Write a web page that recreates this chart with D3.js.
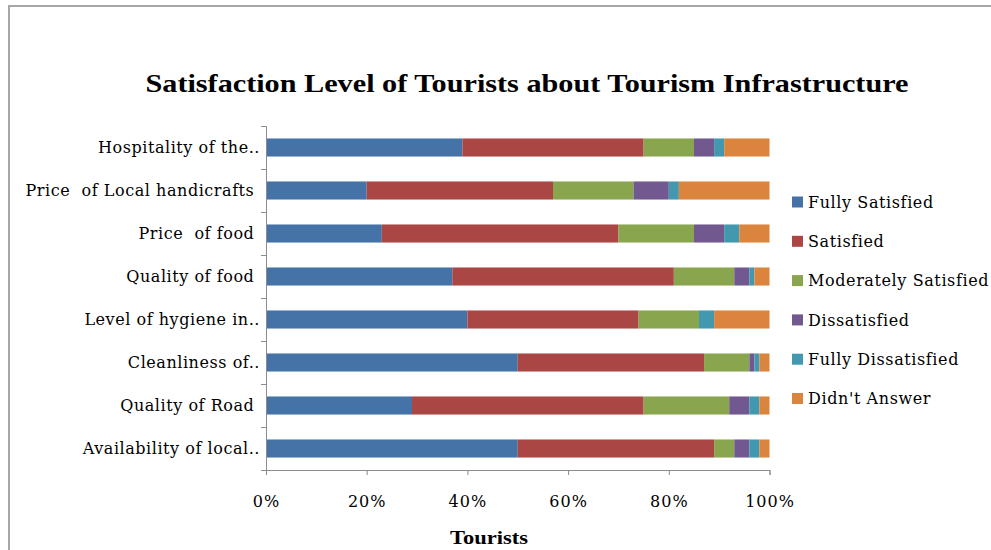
<!DOCTYPE html>
<html>
<head>
<meta charset="utf-8">
<script src="https://cdn.jsdelivr.net/npm/d3@7"></script>
<style>
  body { margin: 0; background: #fff; }
  text { white-space: pre; }
</style>
</head>
<body>
<div id="chart"></div>
<script>
const categories = [
    "Hospitality of the..",
    "Price  of Local handicrafts ",
    "Price  of food ",
    "Quality of food ",
    "Level of hygiene in..",
    "Cleanliness of..",
    "Quality of Road ",
    "Availability of local.."
];
const seriesNames = ["Fully Satisfied", "Satisfied", "Moderately Satisfied", "Dissatisfied", "Fully Dissatisfied", "Didn't Answer"];
const fullySatisfied = [39, 20, 23, 37, 40, 50, 29, 50];
const satisfied = [36, 37, 47, 44, 34, 37, 46, 39];
const moderatelySatisfied = [10, 16, 15, 12, 12, 9, 17, 4];
const dissatisfied = [4, 7, 6, 3, 0, 1, 4, 3];
const fullyDissatisfied = [2, 2, 3, 1, 3, 1, 2, 2];
const didntAnswer = [9, 18, 6, 3, 11, 2, 2, 2];
const xTicks = [0, 0.2, 0.4, 0.6, 0.8, 1];
const colors = ["#4572A7", "#AA4643", "#89A54E", "#71588F", "#4198AF", "#DB843D"];

const svgWidth = 991;
const svgHeight = 550;
const margin = { top: 126, right: 221.5, bottom: 80, left: 266 };
const width = svgWidth - margin.left - margin.right;
const height = svgHeight - margin.top - margin.bottom;

const values = [fullySatisfied, satisfied, moderatelySatisfied, dissatisfied, fullyDissatisfied, didntAnswer];
const rows = categories.map((c, i) => {
    const r = { category: c };
    seriesNames.forEach((s, j) => { r[s] = values[j][i]; });
    return r;
});

const stacked = d3.stack()
    .keys(seriesNames)
    .offset(d3.stackOffsetExpand)(rows);

const svg = d3.select("#chart")
    .append("svg")
    .attr("width", svgWidth)
    .attr("height", svgHeight)
    .style("font-family", "'DejaVu Serif', serif");

// chart border
svg.append("path")
    .attr("d", "M9,550V6H991")
    .attr("fill", "none")
    .attr("stroke", "#a6a6a6")
    .attr("stroke-width", 2);

svg.append("text")
    .attr("x", 527)
    .attr("y", 92)
    .attr("text-anchor", "middle")
    .attr("textLength", 763)
    .attr("lengthAdjust", "spacingAndGlyphs")
    .style("font-family", "'Liberation Serif', serif")
    .style("font-weight", "bold")
    .style("font-size", "26px")
    .text("Satisfaction Level of Tourists about Tourism Infrastructure");

const g = svg.append("g")
    .attr("transform", `translate(${margin.left},${margin.top})`);

const xScale = d3.scaleLinear()
    .domain([0, 1])
    .range([0, width]);

const yScale = d3.scaleBand()
    .domain(categories)
    .range([0, height])
    .paddingInner(0.58)
    .paddingOuter(0.29);

g.selectAll("g.series")
    .data(stacked)
    .enter()
    .append("g")
    .attr("class", "series")
    .attr("fill", (d, i) => colors[i])
    .selectAll("rect")
    .data(d => d)
    .enter()
    .append("rect")
    .attr("x", d => xScale(d[0]))
    .attr("y", d => yScale(d.data.category))
    .attr("width", d => xScale(d[1]) - xScale(d[0]))
    .attr("height", yScale.bandwidth());

// left axis with ticks between categories
const yEdges = d3.scaleLinear().domain([0, categories.length]).range([0, height]);
const yAxis = g.append("g")
    .call(d3.axisLeft(yEdges).tickValues(d3.range(categories.length + 1)).tickSize(5).tickFormat(""));
yAxis.selectAll("line, path").attr("stroke", "#8c8c8c");

g.selectAll("text.cat")
    .data(categories)
    .enter()
    .append("text")
    .attr("class", "cat")
    .attr("x", -6)
    .attr("y", d => yScale(d) + yScale.bandwidth() / 2)
    .attr("dy", "0.35em")
    .attr("text-anchor", "end")
    .style("font-size", "16px")
    .style("letter-spacing", "0.55px")
    .attr("fill", "#000")
    .text(d => d);

const xAxis = g.append("g")
    .attr("transform", `translate(0,${height})`)
    .call(d3.axisBottom(xScale).tickValues(xTicks).tickSize(5).tickPadding(21).tickFormat(d3.format(".0%")));
xAxis.selectAll("line, path").attr("stroke", "#8c8c8c");
xAxis.selectAll("text")
    .style("font-family", "'DejaVu Serif', serif")
    .style("font-size", "16px")
    .style("letter-spacing", "1px")
    .attr("fill", "#000");

svg.append("text")
    .attr("x", 489)
    .attr("y", 544)
    .attr("text-anchor", "middle")
    .attr("textLength", 78)
    .attr("lengthAdjust", "spacingAndGlyphs")
    .style("font-family", "'Liberation Serif', serif")
    .style("font-weight", "bold")
    .style("font-size", "19px")
    .text("Tourists");

const legend = svg.append("g")
    .attr("transform", "translate(792,202)");

const item = legend.selectAll("g")
    .data(seriesNames)
    .enter()
    .append("g")
    .attr("transform", (d, i) => `translate(0,${i * 39.3})`);

item.append("rect")
    .attr("x", 0)
    .attr("y", -5.5)
    .attr("width", 11)
    .attr("height", 11)
    .attr("fill", (d, i) => colors[i]);

item.append("text")
    .attr("x", 16)
    .attr("dy", "0.35em")
    .style("font-size", "16px")
    .style("letter-spacing", "0.6px")
    .text(d => d);
</script>
</body>
</html>
